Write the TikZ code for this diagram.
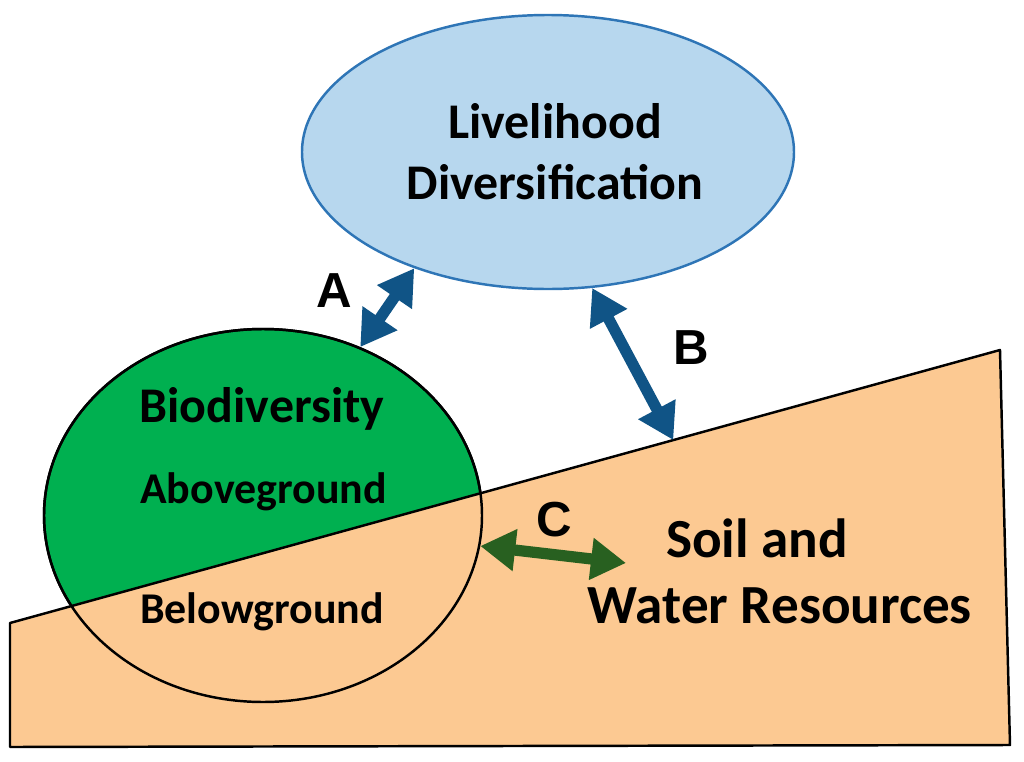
\documentclass[tikz,border=0pt]{standalone}
\usepackage{fontspec}
\setmainfont{Carlito}
\newfontfamily\letterfont{Liberation Sans}
\usetikzlibrary{shapes.geometric,arrows.meta,calc}
\definecolor{skyblue}{RGB}{183,215,238}
\definecolor{skyline}{RGB}{46,117,182}
\definecolor{leafgreen}{RGB}{0,176,80}
\definecolor{soilorange}{RGB}{252,201,146}
\definecolor{linkblue}{RGB}{16,84,134}
\definecolor{linkgreen}{RGB}{40,96,32}

\begin{document}
\begin{tikzpicture}[
        bubble/.style={ellipse, inner sep=0pt, line width=0.7pt},
        ground/.style={fill=soilorange, draw=black, line width=0.7pt, line join=round},
        link/.style={line width=3.2pt, {Triangle[length=0.35cm,width=0.40cm]}-{Triangle[length=0.35cm,width=0.40cm]}},
        letter/.style={font=\letterfont\bfseries\fontsize{14}{16}\selectfont},
        big/.style={font=\bfseries\fontsize{14.2}{17.4}\selectfont, align=center},
        small/.style={font=\bfseries\fontsize{12.5}{15}\selectfont, anchor=base}
    ]
        \useasboundingbox (0,0) rectangle (10.24,7.61);
        \coordinate (ltop) at (0.10,1.38);
        \coordinate (rtop) at (10.00,4.11);
        \coordinate (rbot) at (10.10,0.16);
        \coordinate (lbot) at (0.10,0.14);

        \node[bubble, fill=leafgreen, draw=black, minimum width=4.38cm, minimum height=3.73cm] (bio) at (2.63,2.455) {};
        \draw[ground] (ltop) -- (rtop) -- (rbot) -- (lbot) -- cycle;
        \draw[line width=0.7pt] (bio.center) ellipse [x radius=2.19, y radius=1.865];

        \node[bubble, fill=skyblue, draw=skyline, minimum width=4.92cm, minimum height=2.74cm] (live) at (5.48,6.09) {};
        \node[big] (livetext) at (5.55,6.09) {Livelihood\\Diversification};

        \node[big, anchor=base] (biotext) at (2.62,3.39) {Biodiversity};
        \node[small] (above) at (2.635,2.58) {Aboveground};
        \node[small] (below) at (2.62,1.38) {Belowground};
        \node[font=\bfseries\fontsize{15.7}{18}\selectfont, anchor=base] (soil) at (7.57,2.04) {Soil and};
        \node[font=\bfseries\fontsize{15.7}{18}\selectfont, anchor=base] (water) at (7.80,1.38) {Water Resources};

        \coordinate (bend) at ($(ltop)!0.67!(rtop)$);
        \coordinate (cend) at (6.26,1.98);
        \draw[link, linkblue] (bio.60) -- (live.221);
        \draw[link, linkblue] (live.288) -- (bend);
        \draw[link, linkgreen] (bio.-8) -- (cend);

        \node[letter] (laba) at (3.34,4.70) {A};
        \node[letter] (labb) at (6.91,4.13) {B};
        \node[letter] (labc) at (5.54,2.41) {C};
    \end{tikzpicture}
\end{document}
